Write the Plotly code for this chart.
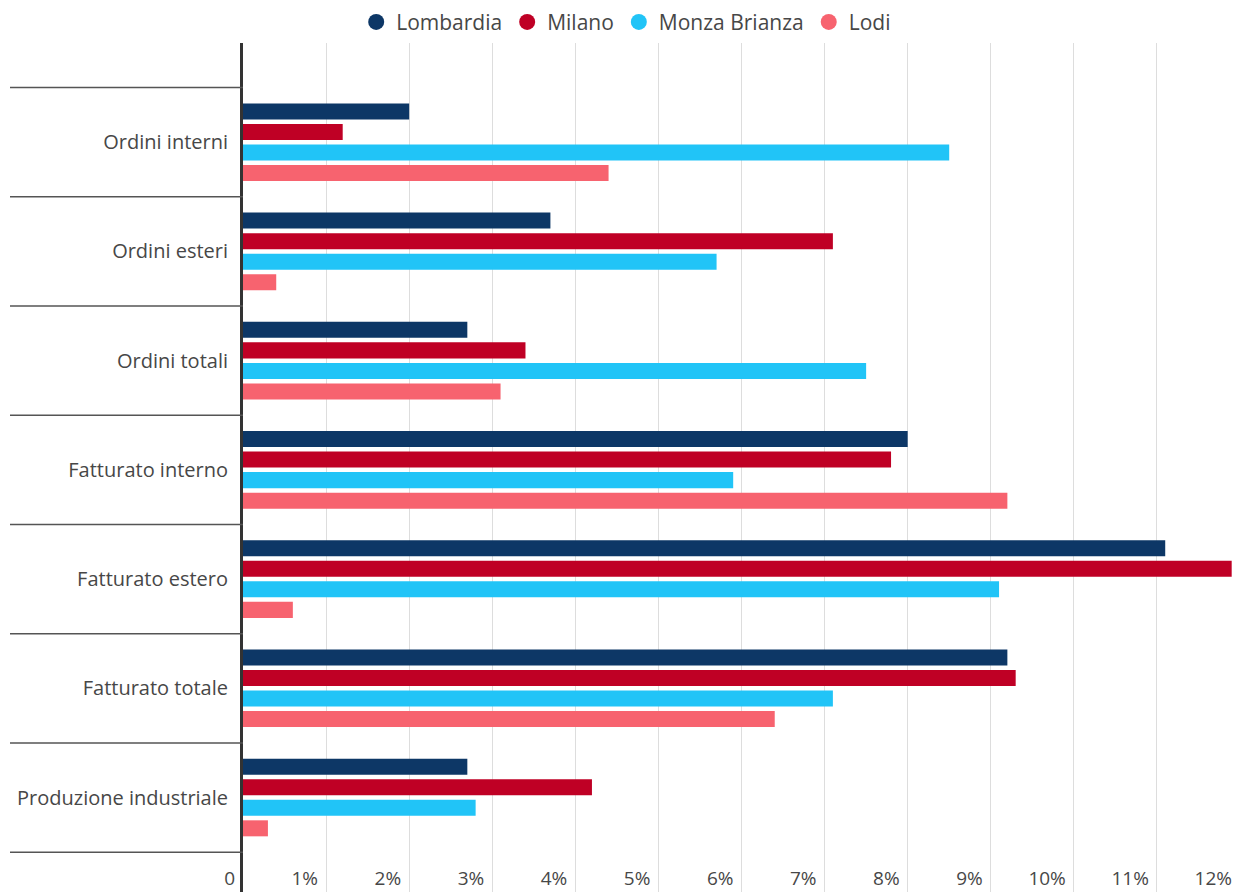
import plotly.graph_objects as go

# Indicator categories (top to bottom)
categories = [
    "Ordini interni",
    "Ordini esteri",
    "Ordini totali",
    "Fatturato interno",
    "Fatturato estero",
    "Fatturato totale",
    "Produzione industriale",
]

# Percentage values per area
lombardia = [2.0, 3.7, 2.7, 8.0, 11.1, 9.2, 2.7]
milano = [1.2, 7.1, 3.4, 7.8, 11.9, 9.3, 4.2]
monza_brianza = [8.5, 5.7, 7.5, 5.9, 9.1, 7.1, 2.8]
lodi = [4.4, 0.4, 3.1, 9.2, 0.6, 6.4, 0.3]

series_names = ["Lombardia", "Milano", "Monza Brianza", "Lodi"]
series_values = [lombardia, milano, monza_brianza, lodi]
series_colors = ["#0d3766", "#bf0025", "#21c4f7", "#f7636f"]

x_tick_vals = list(range(0, 13))
x_tick_text = ["0"] + [f"{v}%" for v in range(1, 13)]

FONT = "Open Sans"
TEXT_COLOR = "#474747"

positions = list(range(len(categories)))

fig = go.Figure()

for name, values, color in zip(series_names, series_values, series_colors):
    fig.add_trace(
        go.Bar(
            name=name,
            x=values,
            y=positions,
            orientation="h",
            marker=dict(color=color, line=dict(width=0)),
            showlegend=False,
            hovertemplate=name + ": %{x}%<extra></extra>",
        )
    )

# Round legend markers
for name, color in zip(series_names, series_colors):
    fig.add_trace(
        go.Scatter(
            name=name,
            x=[None],
            y=[None],
            mode="markers",
            marker=dict(color=color, size=20, symbol="circle"),
            showlegend=True,
        )
    )

# Horizontal separators between categories, drawn in the label column
shapes = []
for k in range(len(categories) + 1):
    shapes.append(
        dict(
            type="line",
            xref="paper",
            yref="y",
            x0=-0.2337,
            x1=0,
            y0=k - 0.5,
            y1=k - 0.5,
            line=dict(color="#555555", width=1.5),
            layer="above",
        )
    )

fig.update_layout(
    width=1240,
    height=892,
    margin=dict(l=243, r=0, t=40, b=0),
    paper_bgcolor="white",
    plot_bgcolor="white",
    barmode="group",
    bargap=0.248,
    bargroupgap=0.22,
    font=dict(family=FONT, size=20, color=TEXT_COLOR),
    shapes=shapes,
    legend=dict(
        orientation="h",
        xref="container",
        yref="container",
        x=0.505,
        xanchor="center",
        y=0.975,
        yanchor="middle",
        font=dict(family=FONT, size=21, color=TEXT_COLOR),
        itemsizing="trace",
        itemwidth=30,
        bgcolor="rgba(0,0,0,0)",
    ),
    xaxis=dict(
        range=[0, 12.0],
        tickvals=x_tick_vals,
        ticktext=x_tick_text,
        ticklabelposition="inside left",
        ticklabeloverflow="allow",
        ticklabelshift=-8,
        ticklabelstandoff=-3,
        ticks="",
        showgrid=True,
        gridcolor="#dddddd",
        gridwidth=1,
        zeroline=False,
        showline=False,
        tickfont=dict(family=FONT, size=19, color=TEXT_COLOR),
        fixedrange=True,
    ),
    yaxis=dict(
        range=[6.865, -0.91],
        tickvals=positions,
        ticktext=categories,
        ticks="",
        showgrid=False,
        zeroline=False,
        showline=True,
        linecolor="#333333",
        linewidth=3,
        ticklabelstandoff=8,
        tickfont=dict(family=FONT, size=20, color=TEXT_COLOR),
        fixedrange=True,
    ),
)

fig.write_html("out.html")
